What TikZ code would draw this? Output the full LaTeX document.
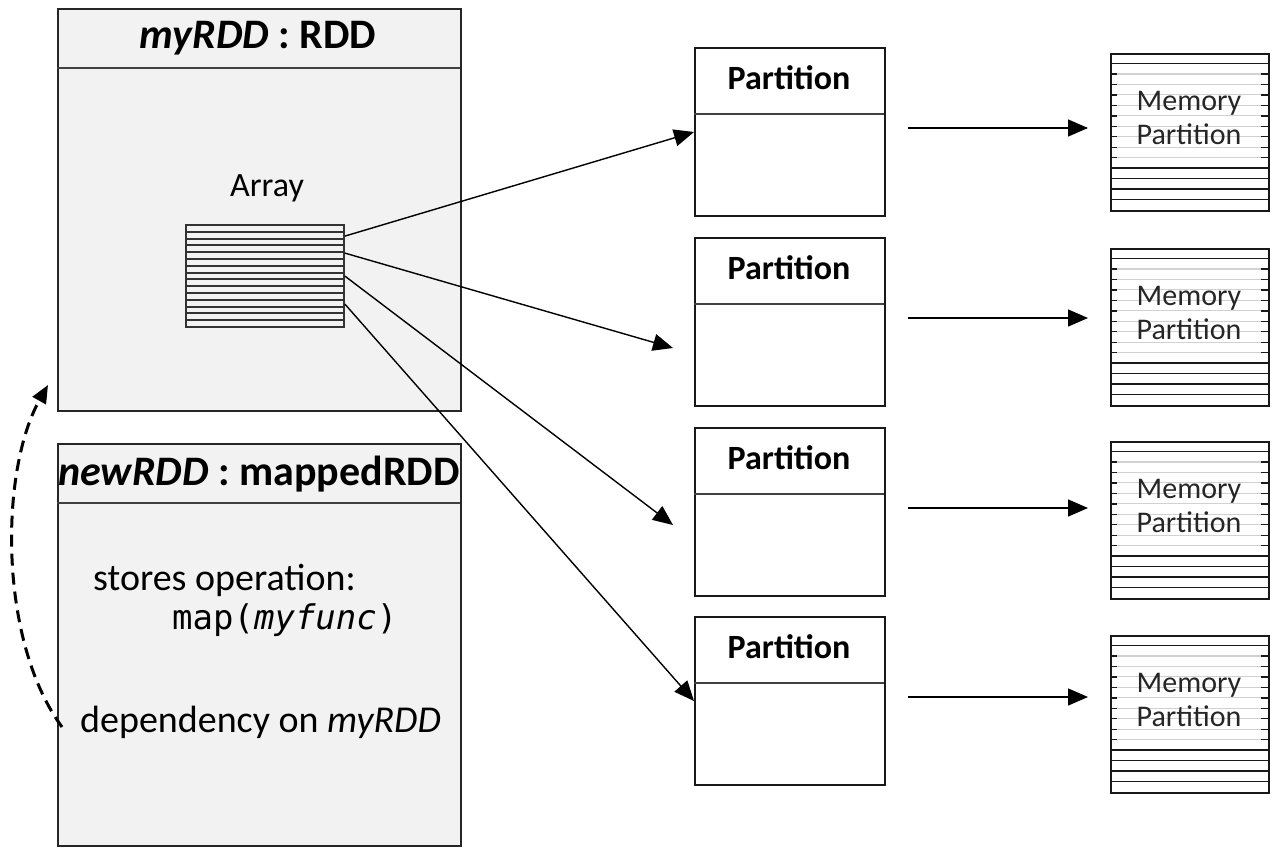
\documentclass[tikz,border=0pt]{standalone}
\usepackage{fontspec}
\setmainfont{Carlito}
\newfontfamily\monof{DejaVu Sans Mono}
\usetikzlibrary{arrows.meta,calc}
\definecolor{boxgray}{HTML}{F2F2F2}
\begin{document}
\begin{tikzpicture}[x=1pt,y=-1pt,
  rddbox/.style={draw=black!85,line width=2pt,fill=boxgray,minimum width=403pt,minimum height=402pt,anchor=north west,inner sep=0pt},
  partbox/.style={draw=black!90,line width=2pt,fill=white,minimum width=190pt,minimum height=168pt,anchor=north west,inner sep=0pt},
  membox/.style={draw=black!90,line width=1.6pt,fill=white,minimum width=158pt,minimum height=157pt,anchor=north west,inner sep=0pt},
  sep/.style={draw=black!75,line width=1.2pt},
  conn/.style={line width=1.4pt,-{Triangle[length=20pt,width=17pt]}},
  ttl/.style={font=\fontsize{42}{48}\selectfont\bfseries,inner sep=0pt},
  ptl/.style={font=\fontsize{34}{40}\selectfont\bfseries,inner sep=0pt},
  mtxt/.style={font=\fontsize{30}{34}\selectfont,align=center,inner sep=0pt,text=black!85},
  body/.style={font=\fontsize{38}{44}\selectfont,inner sep=0pt,anchor=west}]
\useasboundingbox (0,0) rectangle (1273,851);
\fill[white] (0,0) rectangle (1273,851);

% RDD boxes
\node[rddbox] (rdd) at (57,8) {};
\draw[sep] (57,68) -- (460,68);
\node[ttl] (rddt) at (258,38) {\textit{myRDD} : RDD};
\node[font=\fontsize{34}{40}\selectfont,inner sep=0pt] (arrl) at (267,188) {Array};
\node[draw=black!80,line width=1.8pt,fill=boxgray,minimum width=158pt,minimum height=102pt,inner sep=0pt] (arr) at (265,276) {};
\foreach \k in {1,...,14} {
  \draw[line width=1.9pt,black!80] (186,225+\k*6.8) -- (344,225+\k*6.8);
}

\node[rddbox] (nrdd) at (57,443) {};
\draw[sep] (57,503) -- (460,503);
\node[ttl] (nrddt) at (259,474) {\textit{newRDD} : mappedRDD};
\node[body] (st) at (93,580) {stores operation:};
\node[body,font=\fontsize{34}{40}\selectfont\monof] (mp) at (172,620) {map(\textit{myfunc})};
\node[body] (dep) at (80,722) {dependency on \textit{myRDD}};

% partitions
\foreach \i/\t in {1/47,2/237,3/427,4/616} {
  \node[partbox] (p\i) at (694,\t) {};
  \draw[sep] (694,\t+67) -- (884,\t+67);
  \node[ptl] (pt\i) at (789,\t+31) {Partition};
}

% memory partitions
\foreach \i/\t in {1/53,2/248,3/441,4/635} {
  \node[membox] (m\i) at (1110,\t) {};
  \foreach \k in {2,...,10} {
    \draw[line width=1.2pt,black!18] (1110,\t+\k*10.47) -- (1268,\t+\k*10.47);
    \draw[line width=1.4pt,black!90] (1110,\t+\k*10.47) -- (1117,\t+\k*10.47);
    \draw[line width=1.4pt,black!90] (1261,\t+\k*10.47) -- (1268,\t+\k*10.47);
  }
  \foreach \k in {1,11,12,13,14} {
    \draw[line width=1.6pt,black!90] (1110,\t+\k*10.47) -- (1268,\t+\k*10.47);
  }
  \node[mtxt] (mt\i) at (1189,\t+65) {Memory\\Partition};
}

% connectors array -> partitions
\coordinate (e2) at (673,348);
\coordinate (e3) at (673,525);
\draw[conn] ($(arr.north east)+(0,12)$) -- (p1.west);
\draw[conn] ($(arr.north east)+(0,29)$) -- (e2);
\draw[conn] ($(arr.north east)+(0,52)$) -- (e3);
\draw[conn] ($(arr.north east)+(0,80)$) -- (p4.west);

% partitions -> memory
\foreach \i in {1,2,3,4} {
  \draw[conn] ($(p\i.east)+(22,-4)$) coordinate (s\i) -- ($(s\i -| m\i.west)+(-22,0)$);
}

% dependency arrow
\coordinate (dsrc) at (62,727);
\coordinate (dst) at (48,385);
\draw[line width=3pt,dash pattern=on 12pt off 7pt,-{Triangle[length=18pt,width=15pt]}]
  (dsrc) .. controls (-2,640) and (0,470) .. (dst);
\end{tikzpicture}
\end{document}
